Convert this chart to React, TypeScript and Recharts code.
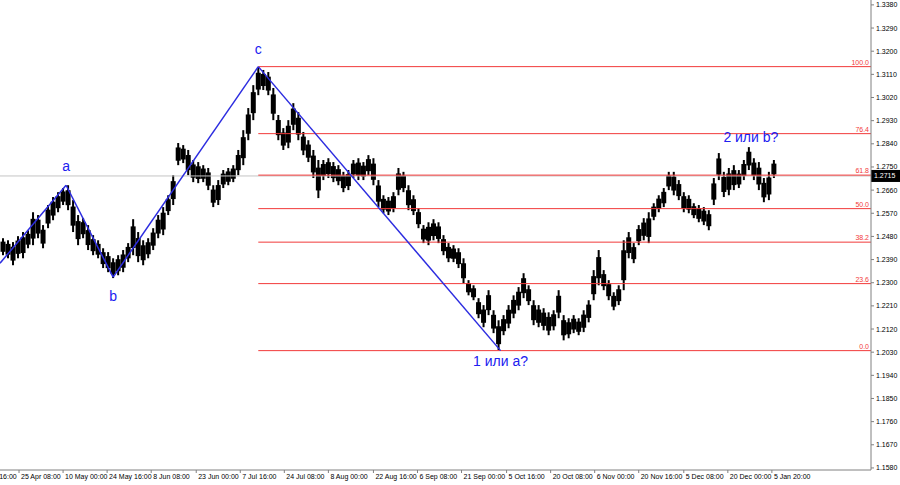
import { ComposedChart, Bar, XAxis, YAxis, ReferenceLine, ReferenceDot } from "recharts";

// H8 bars (one bar per 5px column)
const highs = [
  1.2473, 1.2465, 1.2458, 1.2481, 1.2497, 1.2504, 1.2574, 1.2563, 1.2524, 1.2602,
  1.2633, 1.2652, 1.2668, 1.2679, 1.2621, 1.2563, 1.2551, 1.2524, 1.2485, 1.2465,
  1.2434, 1.2419, 1.2395, 1.2407, 1.2427, 1.2454, 1.2547, 1.2497, 1.2465, 1.2473,
  1.2512, 1.2563, 1.2594, 1.264, 1.2718, 1.2843, 1.2835, 1.2816, 1.2777, 1.2769,
  1.2757, 1.2746, 1.2679, 1.2699, 1.2738, 1.2746, 1.2757, 1.2816, 1.2893, 1.2979,
  1.3068, 1.3138, 1.3127, 1.3119, 1.3057, 1.2952, 1.2901, 1.2932, 1.2998, 1.2963,
  1.2886, 1.2854, 1.2816, 1.2777, 1.2777, 1.2784, 1.2769, 1.2757, 1.2731, 1.2738,
  1.2777, 1.2784, 1.2769, 1.2796, 1.2784, 1.2699, 1.264, 1.2633, 1.2652, 1.2746,
  1.2731, 1.2679, 1.264, 1.259, 1.2524, 1.2535, 1.2547, 1.2535, 1.2485, 1.2454,
  1.2446, 1.2434, 1.2395, 1.231, 1.229, 1.224, 1.2213, 1.2271, 1.2193, 1.2154,
  1.2174, 1.2213, 1.2251, 1.2283, 1.2337, 1.229, 1.2232, 1.2213, 1.2201, 1.2185,
  1.2193, 1.2271, 1.2174, 1.2162, 1.2174, 1.2162, 1.2193, 1.2232, 1.2349, 1.2427,
  1.2349, 1.231, 1.2263, 1.229, 1.2465, 1.2497, 1.2454, 1.2524, 1.2551, 1.2574,
  1.2609, 1.264, 1.2668, 1.2731, 1.2731, 1.2699, 1.2652, 1.264, 1.2609, 1.2602,
  1.2594, 1.2582, 1.2707, 1.2804, 1.2731, 1.2746, 1.2757, 1.2738, 1.2777, 1.2827,
  1.2784, 1.2769, 1.2707, 1.2731, 1.2777,
];
const lows = [
  1.2407, 1.2395, 1.2368, 1.2395, 1.2395, 1.2434, 1.2446, 1.2473, 1.2434, 1.2512,
  1.2543, 1.2574, 1.2602, 1.2582, 1.2497, 1.2446, 1.2473, 1.2427, 1.2407, 1.2395,
  1.2357, 1.2341, 1.2318, 1.2329, 1.2341, 1.238, 1.2407, 1.238, 1.2368, 1.2395,
  1.2427, 1.2473, 1.2485, 1.2563, 1.2602, 1.2757, 1.2765, 1.2718, 1.2691, 1.2687,
  1.2691, 1.266, 1.2594, 1.2602, 1.2668, 1.2679, 1.2691, 1.2718, 1.2757, 1.2854,
  1.2932, 1.3029, 1.3049, 1.3029, 1.2932, 1.2854, 1.2816, 1.2823, 1.2893, 1.2854,
  1.2796, 1.2769, 1.2707, 1.2629, 1.2699, 1.2707, 1.2691, 1.2679, 1.2652, 1.266,
  1.2707, 1.2699, 1.2699, 1.2718, 1.2679, 1.2594, 1.257, 1.2563, 1.2574, 1.264,
  1.2652, 1.2582, 1.2563, 1.2512, 1.2454, 1.2446, 1.2465, 1.2454, 1.2407, 1.238,
  1.238, 1.2357, 1.2298, 1.2251, 1.2232, 1.2162, 1.2127, 1.2174, 1.2104, 1.2038,
  1.2096, 1.2123, 1.2162, 1.2193, 1.224, 1.2213, 1.2135, 1.2127, 1.2115, 1.2096,
  1.2115, 1.2162, 1.2076, 1.2084, 1.2104, 1.2096, 1.2108, 1.2146, 1.2232, 1.229,
  1.2271, 1.2232, 1.2193, 1.2213, 1.2271, 1.2395, 1.2376, 1.2446, 1.2465, 1.2454,
  1.2543, 1.2574, 1.2594, 1.266, 1.264, 1.2621, 1.2574, 1.257, 1.2551, 1.2535,
  1.2524, 1.2504, 1.2602, 1.2699, 1.2633, 1.264, 1.266, 1.2668, 1.2699, 1.2738,
  1.2699, 1.266, 1.2613, 1.2621, 1.2707,
];
const SLOTS = 174; // chart shift leaves empty room on the right

const xTickPos = [-5, 3.8, 12.6, 21.4, 30.2, 39.2, 48, 56.8, 65.6, 74.6, 83.4, 92.2, 101.2, 110, 118.8, 127.6, 136.6, 145.4, 154.2];
const xTickLabels = [
  "10 Apr 16:00", "25 Apr 08:00", "10 May 00:00", "24 May 16:00", "8 Jun 08:00", "23 Jun 00:00",
  "7 Jul 16:00", "24 Jul 08:00", "8 Aug 00:00", "22 Aug 16:00", "6 Sep 08:00", "21 Sep 00:00",
  "5 Oct 16:00", "20 Oct 08:00", "6 Nov 00:00", "20 Nov 16:00", "5 Dec 08:00", "20 Dec 00:00", "5 Jan 20:00",
];
const yTicks = [
  1.158, 1.167, 1.176, 1.185, 1.194, 1.203, 1.212, 1.221, 1.23, 1.239, 1.248,
  1.257, 1.266, 1.275, 1.284, 1.293, 1.302, 1.311, 1.32, 1.329, 1.338,
];

// wave markup
const waveIdx = [0, 13.2, 22.6, 51.6, 100];
const wavePrice = [1.2376, 1.2679, 1.2322, 1.314, 1.2036];
const waveLabels = ["", "a", "b", "c", "1 или a?"];
const waveSide = ["top", "top", "bottom", "top", "bottom"];
const waveOffset = [0, 14, 14, 13, 5];

const fibLevels = [0, 23.6, 38.2, 50, 61.8, 76.4, 100];
const fibLow = 1.2036;
const fibHigh = 1.314;
const fibStart = 51.6;

const lastPrice = 1.2715;
const noteText = "2 или b?";
const noteIdx = 150;
const notePrice = 1.2865;

const FONT = "Liberation Sans, Arial, sans-serif";
const BLUE = "#2020f0";

const data = Array.from({ length: SLOTS }, (_, i) => ({
  i,
  range: i < highs.length ? [lows[i], highs[i]] : null,
}));

// thin wick over the full range, denser body in the middle
function PriceBar({ x, y, width, height }: any) {
  if (height == null || isNaN(height)) return null;
  const cx = x + width / 2;
  const h = Math.max(height, 1);
  return (
    <g>
      <rect x={cx - 1} y={y} width={2} height={h} fill="#000" />
      <rect x={x - 0.5} y={y + h * 0.2} width={width + 1} height={h * 0.6} fill="#000" />
    </g>
  );
}

function XTick({ x, y, index }: any) {
  return (
    <text x={x + 2} y={y + 6} fontSize={7} fontFamily={FONT} fill="#000" textAnchor="start">
      {xTickLabels[index]}
    </text>
  );
}

function YTick({ x, y, payload }: any) {
  return (
    <text x={x + 2} y={y + 2.5} fontSize={7} fontFamily={FONT} fill="#000" textAnchor="start">
      {payload.value.toFixed(4)}
    </text>
  );
}

function PriceTag({ viewBox }: any) {
  const x = viewBox.x + viewBox.width;
  const y = viewBox.y;
  return (
    <g>
      <rect x={x} y={y - 6} width={29} height={12} fill="#000" />
      <text x={x + 3} y={y + 2.5} fontSize={7} fontFamily={FONT} fill="#fff">
        {lastPrice.toFixed(4)}
      </text>
    </g>
  );
}

export default function App() {
  return (
    <div style={{ position: "fixed", left: 0, top: 0, width: 900, height: 485, background: "#fff", overflow: "hidden" }}>
      <ComposedChart width={900} height={485} data={data} margin={{ top: 0, right: 0, bottom: 0, left: 0 }}>
        <XAxis
          xAxisId="num"
          dataKey="i"
          type="number"
          domain={[0, SLOTS]}
          ticks={xTickPos}
          interval={0}
          allowDataOverflow
          height={15}
          tickSize={3}
          tickMargin={0}
          axisLine={{ stroke: "#808080" }}
          tickLine={{ stroke: "#808080" }}
          tick={<XTick />}
        />
        <XAxis xAxisId="cat" dataKey="i" type="category" hide height={0} />
        <YAxis
          orientation="right"
          width={29}
          domain={[1.1572, 1.3399]}
          ticks={yTicks}
          interval={0}
          allowDataOverflow
          tickSize={3}
          tickMargin={0}
          axisLine={{ stroke: "#808080" }}
          tickLine={{ stroke: "#808080" }}
          tick={<YTick />}
        />
        <ReferenceLine xAxisId="num" y={lastPrice} stroke="#c4c4c4" label={<PriceTag />} />
        {fibLevels.map((lv) => {
          const p = fibLow + ((fibHigh - fibLow) * lv) / 100;
          return (
            <ReferenceLine
              key={lv}
              xAxisId="num"
              segment={[{ x: fibStart, y: p }, { x: SLOTS, y: p }]}
              stroke="#f23a3a"
              label={(props: any) => {
                const vb = props.viewBox;
                return (
                  <text x={vb.x + vb.width - 2} y={vb.y - 2} fontSize={7} fontFamily={FONT} fill="#f23a3a" textAnchor="end">
                    {lv.toFixed(1)}
                  </text>
                );
              }}
            />
          );
        })}
        <Bar xAxisId="cat" dataKey="range" barSize={4} fill="#000" isAnimationActive={false} shape={<PriceBar />} />
        {waveIdx.slice(1).map((wx, k) => (
          <ReferenceLine
            key={"w" + k}
            xAxisId="num"
            segment={[{ x: waveIdx[k], y: wavePrice[k] }, { x: wx, y: wavePrice[k + 1] }]}
            stroke="#2c2ce0"
            strokeWidth={1.5}
          />
        ))}
        {waveIdx.map((wx, k) =>
          waveLabels[k] ? (
            <ReferenceDot
              key={"l" + k}
              xAxisId="num"
              x={wx}
              y={wavePrice[k]}
              r={0}
              stroke="none"
              fill="none"
              label={{ value: waveLabels[k], position: waveSide[k] as any, offset: waveOffset[k], fill: BLUE, fontSize: 14, fontFamily: FONT }}
            />
          ) : null
        )}
        <ReferenceDot
          xAxisId="num"
          x={noteIdx}
          y={notePrice}
          r={0}
          stroke="none"
          fill="none"
          label={{ value: noteText, position: "center", fill: BLUE, fontSize: 14, fontFamily: FONT }}
        />
      </ComposedChart>
    </div>
  );
}
